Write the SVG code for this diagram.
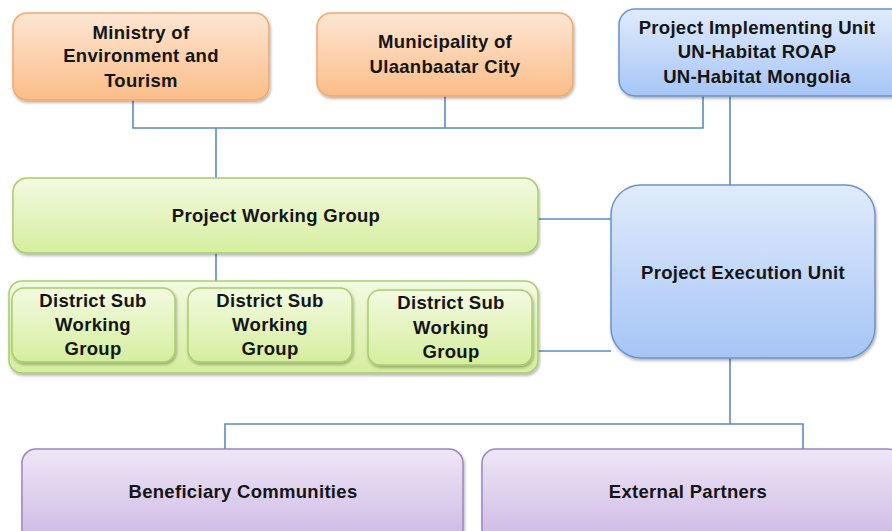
<svg xmlns="http://www.w3.org/2000/svg" width="892" height="531" viewBox="0 0 892 531">
  <defs>
    <linearGradient id="gOrange" x1="0" y1="0" x2="0" y2="1">
      <stop offset="0" stop-color="#fde6d4"/>
      <stop offset="1" stop-color="#fbbd88"/>
    </linearGradient>
    <linearGradient id="gBlue" x1="0" y1="0" x2="0" y2="1">
      <stop offset="0" stop-color="#e0ebfc"/>
      <stop offset="1" stop-color="#a6c5f6"/>
    </linearGradient>
    <linearGradient id="gGreen" x1="0" y1="0" x2="0" y2="1">
      <stop offset="0" stop-color="#f3fae2"/>
      <stop offset="1" stop-color="#d5ee9e"/>
    </linearGradient>
    <linearGradient id="gPurple" x1="0" y1="0" x2="0" y2="1">
      <stop offset="0" stop-color="#eee7f6"/>
      <stop offset="1" stop-color="#cdb7e5"/>
    </linearGradient>
    <filter id="shadow" x="-5%" y="-5%" width="112%" height="120%">
      <feDropShadow dx="1" dy="2" stdDeviation="1.5" flood-color="#000" flood-opacity="0.3"/>
    </filter>
  </defs>
  <style>
    .box { stroke-width: 1.5; filter: url(#shadow); }
    .orange { fill: url(#gOrange); stroke: #f3a86c; }
    .blue { fill: url(#gBlue); stroke: #6b93c9; }
    .green { fill: url(#gGreen); stroke: #a9cd6c; }
    .purple { fill: url(#gPurple); stroke: #9c86ba; }
    .label { font-family: "Liberation Sans", Arial, sans-serif; font-weight: bold; font-size: 18.5px; letter-spacing: 0.3px; fill: #151515; text-anchor: middle; }
    .conn { fill: none; stroke: #5b8ac7; stroke-width: 1.6; }
  </style>

  <rect width="892" height="531" fill="#ffffff"/>

  <!-- connectors -->
  <g id="connectors" class="conn">
    <path d="M133,100 V128 H703 V96"/>
    <path d="M445,96 V128"/>
    <path d="M216,128 V178"/>
    <path d="M730,96 V185"/>
    <path d="M216,253 V282"/>
    <path d="M538,219 H611"/>
    <path d="M538,351 H611"/>
    <path d="M730,358 V424"/>
    <path d="M225,449 V424 H803 V449"/>
  </g>

  <g id="ministry">
    <rect class="box orange" x="13" y="13" width="256" height="87" rx="14"/>
    <text class="label" x="141" y="39">Ministry of</text>
    <text class="label" x="141" y="62">Environment and</text>
    <text class="label" x="141" y="87">Tourism</text>
  </g>

  <g id="municipality">
    <rect class="box orange" x="317" y="13" width="256" height="83" rx="14"/>
    <text class="label" x="445" y="48">Municipality of</text>
    <text class="label" x="445" y="73">Ulaanbaatar City</text>
  </g>

  <g id="piu">
    <rect class="box blue" x="619" y="9" width="290" height="87" rx="16"/>
    <text class="label" x="757" y="34">Project Implementing Unit</text>
    <text class="label" x="757" y="58">UN-Habitat ROAP</text>
    <text class="label" x="757" y="83">UN-Habitat Mongolia</text>
  </g>

  <g id="pwg">
    <rect class="box green" x="13" y="178" width="525" height="75" rx="14"/>
    <text class="label" x="276" y="222">Project Working Group</text>
  </g>

  <g id="district-groups">
    <rect class="box green" x="9" y="281" width="529" height="92" rx="13"/>
    <g id="dswg1">
      <rect class="box green" x="12" y="288" width="163" height="74" rx="12"/>
      <text class="label" x="93" y="307">District Sub</text>
      <text class="label" x="93" y="331">Working</text>
      <text class="label" x="93" y="355">Group</text>
    </g>
    <g id="dswg2">
      <rect class="box green" x="188" y="288" width="164" height="74" rx="12"/>
      <text class="label" x="270" y="307">District Sub</text>
      <text class="label" x="270" y="331">Working</text>
      <text class="label" x="270" y="355">Group</text>
    </g>
    <g id="dswg3">
      <rect class="box green" x="368" y="290" width="164" height="75" rx="12"/>
      <text class="label" x="451" y="309">District Sub</text>
      <text class="label" x="451" y="334">Working</text>
      <text class="label" x="451" y="358">Group</text>
    </g>
  </g>

  <g id="peu">
    <rect class="box blue" x="611" y="185" width="264" height="173" rx="30"/>
    <text class="label" x="743" y="279">Project Execution Unit</text>
  </g>

  <g id="beneficiary">
    <rect class="box purple" x="22" y="449" width="441" height="95" rx="14"/>
    <text class="label" x="243" y="498">Beneficiary Communities</text>
  </g>

  <g id="partners">
    <rect class="box purple" x="482" y="449" width="420" height="95" rx="14"/>
    <text class="label" x="688" y="498">External Partners</text>
  </g>
</svg>
